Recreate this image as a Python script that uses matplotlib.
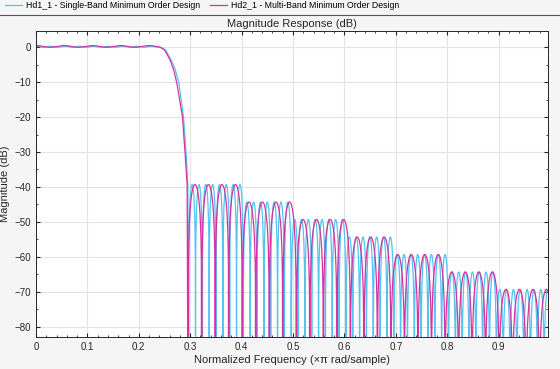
import numpy as np
import matplotlib
matplotlib.use('Agg')
import matplotlib.pyplot as plt
from matplotlib.lines import Line2D

plt.rcParams['font.family'] = ['Liberation Sans', 'DejaVu Sans']

# stopband steps, shared by both designs (peak level of the lobes in each band)
band_edges = [0.296, 0.4, 0.5, 0.6, 0.7, 0.8, 0.9, 1.0]
band_peak_db = [-39.3, -44.3, -49.3, -54.3, -59.3, -64.3, -69.3]

# transition band, points
trans_f_1 = [0.242, 0.252, 0.263, 0.270, 0.278, 0.287, 0.292, 0.2955, 0.297]
trans_db_1 = [0.0, -0.8, -3.7, -6.0, -10.3, -20.0, -30.3, -39.4, -120.0]
trans_f_2 = [0.241, 0.250, 0.261, 0.268, 0.274, 0.285, 0.290, 0.294, 0.296]
trans_db_2 = [0.0, -0.8, -3.7, -6.6, -10.3, -20.0, -30.3, -39.4, -120.0]

# passband ripple and stopband lobe spacing
pass_edge_1, ripple_1, ripple_period_1 = 0.242, 0.15, 0.028
pass_edge_2, ripple_2, ripple_period_2 = 0.241, 0.25, 0.055
stop_start_1, lobe_width_1 = 0.297, 0.0133
stop_start_2, lobe_width_2 = 0.296, 0.0263

labels = ['Hd1_1 - Single-Band Minimum Order Design',
          'Hd2_1 - Multi-Band Minimum Order Design']
colors = ['#55c3f0', '#d7329f']


def response(pass_edge, ripple, period, tf, tdb, stop_start, width):
    f_pass = np.linspace(0, pass_edge, 200)
    db_pass = ripple * np.cos(2 * np.pi * f_pass / period) - ripple * np.cos(2 * np.pi * pass_edge / period)
    f_list = [f_pass, np.array(tf)]
    db_list = [db_pass, np.array(tdb)]
    nulls = np.arange(stop_start, 1.0 + width, width)
    for a, b in zip(nulls[:-1], nulls[1:]):
        c = 0.5 * (a + b)
        k = min(np.searchsorted(band_edges, c) - 1, len(band_peak_db) - 1)
        t = np.linspace(0, 1, 41)
        mag = np.sin(np.pi * t)
        db = band_peak_db[max(k, 0)] + 20 * np.log10(np.maximum(mag, 1e-6))
        f_list.append(a + t * (b - a))
        db_list.append(db)
    return np.concatenate(f_list), np.concatenate(db_list)


f1, db1 = response(pass_edge_1, ripple_1, ripple_period_1, trans_f_1, trans_db_1, stop_start_1, lobe_width_1)
f2, db2 = response(pass_edge_2, ripple_2, ripple_period_2, trans_f_2, trans_db_2, stop_start_2, lobe_width_2)

fig = plt.figure(figsize=(5.6, 3.69), dpi=100)
fig.patch.set_facecolor('#f5f5f5')
ax = fig.add_axes([36 / 560, 1 - 337 / 369, (548 - 36) / 560, (337 - 31) / 369])

ax.plot(f1, db1, color=colors[0], lw=0.9, label=labels[0])
ax.plot(f2, db2, color=colors[1], lw=0.9, label=labels[1])

ax.set_xlim(0, 0.996)
ax.set_ylim(-82.9, 4.6)
ax.set_xticks(np.arange(0, 1.0, 0.1))
ax.set_xticklabels(['0', '0.1', '0.2', '0.3', '0.4', '0.5', '0.6', '0.7', '0.8', '0.9'])
ax.set_yticks(np.arange(-80, 1, 10))
ax.set_xticks(np.arange(0, 1.0, 0.02), minor=True)
ax.set_yticks(np.arange(-80, 5, 5), minor=True)
ax.tick_params(which='both', direction='in', top=True, right=True, colors='#262626', labelsize=7)
ax.tick_params(which='major', length=3)
ax.tick_params(which='minor', length=1.5)
ax.grid(True, which='major', color='#e3e3e3', lw=0.8)
ax.set_axisbelow(True)
for s in ax.spines.values():
    s.set_color('#262626')
    s.set_linewidth(0.7)

ax.set_title('Magnitude Response (dB)', fontsize=8, pad=3, color='#262626')
ax.set_xlabel('Normalized Frequency (\u00d7\u03c0 rad/sample)', fontsize=8, labelpad=2, color='#262626')
ax.set_ylabel('Magnitude (dB)', fontsize=8, labelpad=3, color='#262626')

fig.legend(loc='upper left', bbox_to_anchor=(0.0, 1.012), ncol=2, frameon=False,
           fontsize=6.3, handlelength=1.9, handletextpad=0.45, columnspacing=1.2,
           borderaxespad=0.2)
fig.add_artist(Line2D([0, 1], [1 - 15 / 369, 1 - 15 / 369], color='#555555', lw=0.8,
                      transform=fig.transFigure))

fig.savefig('out.png', dpi=100, facecolor=fig.get_facecolor())
